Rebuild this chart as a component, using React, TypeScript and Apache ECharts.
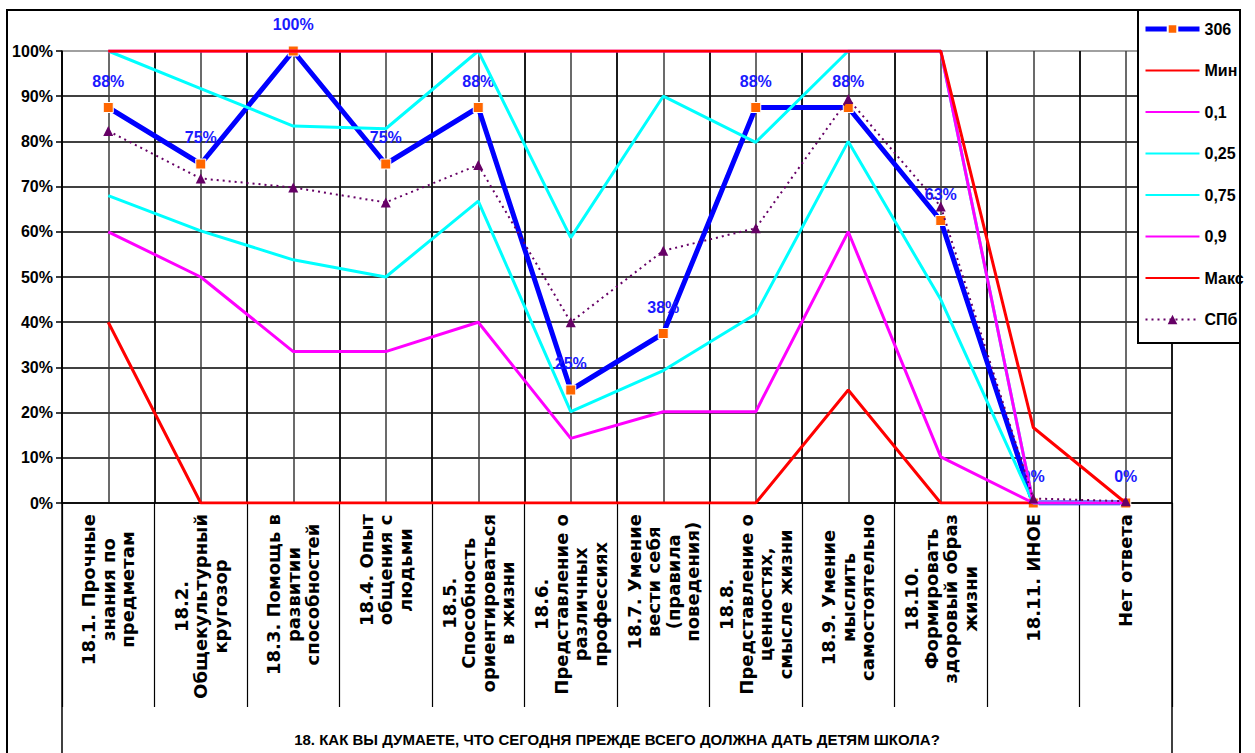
import React, { useEffect, useRef } from 'react';
import * as echarts from 'echarts';

const categories = [
  '18.1. Прочные\nзнания по\nпредметам',
  '18.2.\nОбщекультурный\nкругозор',
  '18.3. Помощь в\nразвитии\nспособностей',
  '18.4. Опыт\nобщения с\nлюдьми',
  '18.5.\nСпособность\nориентироваться\nв жизни',
  '18.6.\nПредставление о\nразличных\nпрофессиях',
  '18.7. Умение\nвести себя\n(правила\nповедения)',
  '18.8.\nПредставление о\nценностях,\nсмысле жизни',
  '18.9. Умение\nмыслить\nсамостоятельно',
  '18.10.\nФормировать\nздоровый образ\nжизни',
  '18.11. ИНОЕ',
  'Нет ответа',
];

const axisTitle = '18. КАК ВЫ ДУМАЕТЕ, ЧТО СЕГОДНЯ ПРЕЖДЕ ВСЕГО ДОЛЖНА ДАТЬ ДЕТЯМ ШКОЛА?';

const seriesNames = ['306', 'Мин', '0,1', '0,25', '0,75', '0,9', 'Макс', 'СПб'];

const s306 = [87.5, 75, 100, 75, 87.5, 25, 37.5, 87.5, 87.5, 62.5, 0, 0];
const sMin = [40, 0, 0, 0, 0, 0, 0, 0, 25, 0, 0, 0];
const s01 = [60, 50, 33.5, 33.5, 40, 14.3, 20.2, 20.2, 60, 10.2, 0, 0];
const s025 = [68, 60.2, 53.8, 50, 66.8, 20.2, 29.3, 41.8, 80, 45, 0, 0];
const s075 = [100, 91.7, 83.4, 82.8, 100, 58.7, 90, 79.8, 100, 100, 0, 0];
const s09 = [100, 100, 100, 100, 100, 100, 100, 100, 100, 100, 0, 0];
const sMax = [100, 100, 100, 100, 100, 100, 100, 100, 100, 100, 16.7, 0];
const sSpb = [82.3, 71.8, 69.8, 66.5, 74.8, 40, 55.8, 60.8, 89.4, 65.6, 1, 0.4];

const SANS = "'Liberation Sans', Arial, sans-serif";
const CAT_FONT_FAMILY = "'DejaVu Sans', sans-serif";
const CAT_FONT_SIZE = 18;

export default function App() {
  const ref = useRef<HTMLDivElement>(null);

  useEffect(() => {
    if (!ref.current) return;
    const chart = echarts.init(ref.current, undefined, { renderer: 'svg' });

    // Rich styles so that every line of a rotated category label is centred
    // inside the block of its longest line (block end-aligned at the axis).
    const ctx = document.createElement('canvas').getContext('2d') as CanvasRenderingContext2D;
    ctx.font = `bold ${CAT_FONT_SIZE}px ${CAT_FONT_FAMILY}`;
    const rich: Record<string, any> = {};
    categories.forEach((cat, i) => {
      const lines = cat.split('\n');
      const widths = lines.map((l) => ctx.measureText(l).width);
      const maxW = Math.max(...widths);
      lines.forEach((_, j) => {
        rich[`r${i}x${j}`] = {
          fontFamily: CAT_FONT_FAMILY,
          fontWeight: 'bold',
          fontSize: CAT_FONT_SIZE,
          lineHeight: 19.5,
          color: '#000',
          padding: [0, (maxW - widths[j]) / 2, 0, 0],
        };
      });
    });

    const plain = (name: string, data: number[], color: string, width = 3) => ({
      name,
      type: 'line',
      data,
      symbol: 'none',
      lineStyle: { color, width },
      itemStyle: { color },
    });

    const yLineColors = ['#000', '#000', '#000', '#000', '#000', '#000', '#000', '#000', '#000', '#000', '#808080'];

    const legendData = seriesNames.map((n) => {
      if (n === '306') return { name: n, lineStyle: { width: 5 } };
      if (n === 'СПб') return { name: n };
      return { name: n, itemStyle: { opacity: 0 } };
    });

    chart.setOption({
      animation: false,
      backgroundColor: '#fff',
      grid: { left: 62, right: 83, top: 51, bottom: 250, containLabel: false },
      legend: {
        orient: 'vertical',
        left: 1138,
        top: 10,
        padding: [9, 5, 14, 5],
        itemWidth: 54,
        itemHeight: 12,
        itemGap: 21.5,
        textStyle: { fontFamily: SANS, fontWeight: 'bold', fontSize: 16, color: '#000', lineHeight: 20 },
        data: legendData,
        z: 10,
      },
      xAxis: [
        {
          type: 'category',
          data: categories,
          boundaryGap: true,
          z: 2,
          axisLine: { show: true, lineStyle: { color: '#000', width: 1.5 } },
          axisTick: { show: true, interval: 0, length: 204, lineStyle: { color: '#000', width: 1.2 } },
          axisLabel: {
            interval: 0,
            rotate: 90,
            margin: 11,
            formatter: (v: string, idx: number) =>
              v
                .split('\n')
                .map((l, j) => `{r${idx}x${j}|${l}}`)
                .join('\n'),
            rich,
          },
          splitLine: { show: true, interval: 0, lineStyle: { color: '#000', width: 1.5 } },
          name: axisTitle,
          nameLocation: 'middle',
          nameGap: 229,
          nameTextStyle: { fontFamily: SANS, fontWeight: 'bold', fontSize: 15, color: '#000' },
        },
        {
          type: 'value',
          min: 0,
          max: 24,
          interval: 1,
          position: 'top',
          z: 0,
          axisLine: { show: false },
          axisTick: { show: false },
          axisLabel: { show: false },
          splitLine: { show: true, lineStyle: { color: '#3a3a3a', width: 1.5 } },
        },
      ],
      yAxis: {
        type: 'value',
        min: 0,
        max: 100,
        interval: 10,
        axisLine: { show: true, lineStyle: { color: '#000', width: 1.5 } },
        axisTick: { show: true, length: 6, lineStyle: { color: '#000', width: 1.5 } },
        axisLabel: {
          formatter: '{value}%',
          margin: 9,
          fontFamily: SANS,
          fontWeight: 'bold',
          fontSize: 16,
          color: '#000',
        },
        splitLine: { show: true, lineStyle: { color: yLineColors, width: 1.5 } },
      },
      series: [
        {
          name: '306',
          type: 'line',
          data: s306,
          xAxisIndex: 0,
          symbol: 'rect',
          symbolSize: 10,
          lineStyle: { color: '#0000FF', width: 5 },
          itemStyle: { color: '#FF6600', borderColor: '#ffffff', borderWidth: 1 },
          label: {
            show: true,
            position: 'top',
            distance: 13,
            formatter: (p: any) => Math.round(p.value) + '%',
            color: '#1a1aff',
            fontFamily: SANS,
            fontWeight: 'bold',
            fontSize: 16,
          },
          z: 2,
        },
        plain('Мин', sMin, '#FF0000'),
        plain('0,1', s01, '#FF00FF'),
        plain('0,25', s025, '#00FFFF'),
        plain('0,75', s075, '#00FFFF'),
        plain('0,9', s09, '#FF00FF'),
        plain('Макс', sMax, '#FF0000'),
        {
          name: 'СПб',
          type: 'line',
          data: sSpb,
          symbol: 'triangle',
          symbolSize: 10,
          lineStyle: { color: '#660066', width: 2, type: [2, 4] },
          itemStyle: { color: '#660066' },
        },
      ],
      graphic: [
        {
          type: 'rect',
          z: 100,
          shape: { x: 7, y: 10, width: 1233, height: 760 },
          style: { fill: 'none', stroke: '#000', lineWidth: 2 },
        },
        {
          type: 'rect',
          z: 3,
          shape: { x: 1138, y: 10, width: 102, height: 333 },
          style: { fill: '#fff', stroke: '#000', lineWidth: 2 },
        },
        {
          type: 'line',
          z: 3,
          shape: { x1: 62, y1: 503, x2: 62, y2: 760 },
          style: { stroke: '#000', lineWidth: 1.5 },
        },
        {
          type: 'line',
          z: 3,
          shape: { x1: 1172, y1: 503, x2: 1172, y2: 760 },
          style: { stroke: '#000', lineWidth: 1.5 },
        },
      ],
    });

    return () => chart.dispose();
  }, []);

  return (
    <div
      ref={ref}
      style={{ position: 'fixed', left: 0, top: 0, width: 1255, height: 753, background: '#fff' }}
    />
  );
}
